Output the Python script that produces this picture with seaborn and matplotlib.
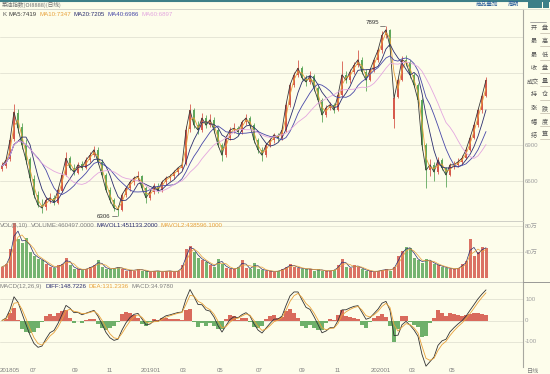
import numpy as np
import pandas as pd
import matplotlib.pyplot as plt
import seaborn as sns
from matplotlib.patches import Rectangle

# ---- data (one bar ~ 4-5 trading days) ----
opens = [6700, 6725, 6780, 6950, 7170, 7050, 6900, 6780, 6620, 6480,
         6400, 6380, 6440, 6460, 6420, 6520, 6650, 6790, 6710, 6670,
         6740, 6710, 6775, 6815, 6860, 6760, 6650, 6525, 6440, 6375,
         6360, 6485, 6540, 6590, 6625, 6640, 6540, 6460, 6510, 6560,
         6525, 6590, 6625, 6640, 6675, 6710, 6740, 7030, 7190, 7065,
         7025, 7125, 7065, 7110, 7025, 6900, 6815, 6960, 7025, 7040,
         7010, 7090, 7125, 7065, 6940, 6860, 6815, 6900, 6940, 6985,
         6960, 7025, 7235, 7400, 7485, 7540, 7460, 7425, 7475, 7375,
         7275, 7150, 7210, 7235, 7190, 7315, 7485, 7440, 7510, 7565,
         7610, 7510, 7440, 7525, 7610, 7690, 7815, 7860, 7120, 7300,
         7440, 7610, 7590, 7485, 7400, 7275, 6900, 6690, 6735, 6675,
         6775, 6710, 6650, 6735, 6735, 6760, 6790, 6860, 6960, 7065,
         7190, 7310]
highs = [6760, 6800, 6980, 7240, 7200, 7080, 6950, 6800, 6650, 6520,
         6450, 6470, 6500, 6480, 6540, 6670, 6840, 6810, 6740, 6760,
         6770, 6800, 6840, 6890, 6880, 6780, 6670, 6550, 6460, 6400,
         6500, 6560, 6610, 6640, 6680, 6650, 6560, 6530, 6580, 6580,
         6610, 6640, 6660, 6690, 6720, 6760, 7060, 7240, 7210, 7100,
         7170, 7150, 7160, 7130, 7040, 6920, 6980, 7050, 7080, 7060,
         7110, 7160, 7140, 7080, 6960, 6880, 6920, 6960, 7000, 7000,
         7050, 7260, 7420, 7510, 7610, 7560, 7480, 7520, 7490, 7390,
         7290, 7230, 7260, 7250, 7340, 7600, 7520, 7530, 7590, 7690,
         7630, 7530, 7540, 7620, 7710, 7850, 7895, 7870, 7320, 7460,
         7640, 7650, 7610, 7500, 7420, 7290, 6920, 6780, 6760, 6800,
         6790, 6720, 6750, 6770, 6790, 6820, 6880, 6980, 7090, 7210,
         7330, 7470]
lows = [6680, 6710, 6770, 6930, 7000, 6870, 6740, 6600, 6460, 6380,
        6330, 6360, 6420, 6400, 6410, 6510, 6640, 6690, 6650, 6660,
        6690, 6700, 6760, 6800, 6740, 6640, 6510, 6420, 6350, 6306,
        6350, 6470, 6520, 6570, 6600, 6520, 6420, 6440, 6490, 6500,
        6510, 6570, 6600, 6620, 6650, 6690, 6730, 7010, 7040, 6990,
        7010, 7040, 7050, 7000, 6880, 6770, 6800, 6940, 7000, 6980,
        6990, 7070, 7040, 6920, 6830, 6770, 6800, 6880, 6920, 6930,
        6940, 7010, 7220, 7380, 7470, 7440, 7390, 7410, 7350, 7260,
        7090, 7130, 7190, 7170, 7180, 7300, 7420, 7420, 7490, 7550,
        7490, 7350, 7430, 7510, 7590, 7670, 7790, 7700, 7040, 7290,
        7430, 7560, 7460, 7380, 7250, 6860, 6540, 6640, 6600, 6660,
        6690, 6550, 6640, 6700, 6720, 6740, 6780, 6850, 6950, 7050,
        7170, 7300]
closes = [6725, 6775, 6940, 7175, 7040, 6900, 6775, 6625, 6485, 6400,
          6375, 6440, 6460, 6425, 6525, 6650, 6790, 6710, 6675, 6735,
          6710, 6775, 6815, 6860, 6760, 6650, 6525, 6440, 6375, 6360,
          6485, 6540, 6590, 6625, 6640, 6540, 6460, 6510, 6560, 6525,
          6590, 6625, 6640, 6675, 6710, 6735, 7025, 7190, 7065, 7025,
          7125, 7065, 7110, 7025, 6900, 6815, 6960, 7025, 7040, 7010,
          7090, 7125, 7065, 6940, 6860, 6815, 6900, 6940, 6985, 6960,
          7025, 7235, 7400, 7485, 7540, 7460, 7425, 7475, 7375, 7275,
          7150, 7210, 7235, 7190, 7315, 7485, 7440, 7510, 7565, 7610,
          7510, 7440, 7525, 7610, 7690, 7815, 7860, 7720, 7290, 7440,
          7610, 7590, 7485, 7400, 7275, 6900, 6690, 6735, 6675, 6775,
          6710, 6650, 6735, 6735, 6760, 6790, 6860, 6960, 7065, 7190,
          7310, 7440]
# volume in 万手
volumes = [18, 22, 45, 85, 60, 55, 62, 40, 35, 30,
           28, 22, 18, 16, 20, 22, 32, 20, 15, 14,
           13, 15, 18, 20, 28, 18, 15, 14, 16, 18,
           14, 12, 13, 12, 15, 12, 11, 10, 12, 11,
           10, 12, 11, 10, 12, 20, 45, 50, 40, 32,
           28, 25, 20, 18, 30, 22, 16, 15, 14, 18,
           28, 16, 14, 24, 15, 13, 12, 11, 10, 12,
           14, 18, 22, 18, 16, 15, 14, 15, 12, 14,
           12, 11, 12, 13, 20, 30, 18, 16, 20, 18,
           14, 12, 11, 10, 12, 13, 14, 12, 18, 35,
           42, 48, 46, 32, 28, 24, 30, 26, 22, 20,
           18, 16, 15, 14, 16, 22, 26, 60, 35, 40,
           48, 46]

ma_names = ["MA5:7419", "MA10:7347", "MA20:7205", "MA40:6986", "MA60:6897"]
ma_windows = [1, 2, 5, 9, 14]
price_grid = [7800, 7500, 7200, 6900, 6600]
price_labels = ["6900", "6600"]
vol_grid = [80, 40]
vol_labels = ["80万", "40万"]
macd_grid = [100, 0, -100]
month_labels = ["201805", "07", "09", "11", "201901", "03", "05", "07",
                "09", "11", "202001", "03", "05"]
month_pos = [-0.5, 7, 17.5, 26.25, 34.75, 44.5, 53.75, 63.5, 74.25, 83.25,
             92.25, 101.75, 111.75]
buttons = [("开", "盘"), ("最", "高"), ("最", "低"), ("收", "盘"),
           ("成交", "量"), ("持", "仓"), ("涨", "跌"), ("幅", "度"), ("结", "算")]

# ---- style ----
sns.set_style("white")
plt.rcParams['font.family'] = ['Liberation Sans Narrow', 'Liberation Sans',
                               'Noto Sans CJK SC', 'DejaVu Sans']
CJK = ['Noto Sans CJK SC', 'DejaVu Sans']
BG = "#FDFDEB"
UP = "#D65A4C"
DOWN = "#5FA85C"
GRID = "#E2E2D2"
TXT = "#808080"
NAVY = "#2A2D6E"
ORANGE = "#E8A13A"
ma_colors = ["#3A3A3A", ORANGE, NAVY, "#4848A8", "#E3A6DF"]
FS = 4.4

W, H = 550, 374
fig = plt.figure(figsize=(5.5, 3.74), dpi=100, facecolor=BG)
renderer = fig.canvas.get_renderer()


def rect(x0, y0, x1, y1):
    return [x0 / W, 1 - y1 / H, (x1 - x0) / W, (y1 - y0) / H]


def text_row(ax, x, y, items, gap=2.5):
    # lay out coloured legend pieces one after another
    for s, c in items:
        t = ax.text(x, y, s, transform=ax.transAxes, fontsize=FS, color=c,
                    va="center", ha="left")
        bb = t.get_window_extent(renderer)
        x = ax.transAxes.inverted().transform((bb.x1 + gap, bb.y0))[0]


ax_k = fig.add_axes(rect(0, 9, 523, 221))
ax_v = fig.add_axes(rect(0, 221, 523, 282))
ax_m = fig.add_axes(rect(0, 282, 523, 367))

df = pd.DataFrame({"open": opens, "high": highs, "low": lows,
                   "close": closes, "vol": volumes})
df["i"] = np.arange(len(df))
up = df["close"] >= df["open"]
colors = np.where(up, UP, DOWN)

for ax in (ax_k, ax_v, ax_m):
    ax.set_facecolor(BG)
    ax.set_xlim(-0.5, 130.25)
    for s in ax.spines.values():
        s.set_visible(False)
    ax.spines["right"].set_visible(True)
    ax.spines["right"].set_color("#A8A8A0")
    ax.spines["right"].set_linewidth(0.8)
    ax.spines["top"].set_visible(True)
    ax.spines["top"].set_color("#C8C8C0")
    ax.spines["top"].set_linewidth(0.6)
    ax.tick_params(length=0, labelsize=FS, colors=TXT, pad=1)
    ax.set_yticks([])
    ax.set_xticks([])

# ---- main K panel ----
ax_k.set_ylim(6267, 8033)
for g in price_grid:
    ax_k.axhline(g, color=GRID, lw=0.6, zorder=0)
ax_k.vlines(df["i"], df["low"], df["high"], colors=colors, lw=0.6, zorder=2)
body = (df["close"] - df["open"]).abs().clip(lower=6)
ax_k.bar(df["i"], body, bottom=df[["open", "close"]].min(axis=1),
         width=0.6, color=colors, lw=0, zorder=2)
for w, c in zip(ma_windows, ma_colors):
    ma = df["close"].rolling(w, min_periods=1).mean()
    sns.lineplot(x=df["i"], y=ma, ax=ax_k, color=c, lw=0.6, zorder=3)
ax_k.set_xlabel("")
ax_k.set_ylabel("")
ytr = ax_k.get_yaxis_transform()
for lab in price_labels:
    ax_k.text(1.004, float(lab), lab, transform=ytr, fontsize=FS,
              color="#A0A0A0", va="center", ha="left", clip_on=False)

# peak / trough marks
imax = int(df["high"].idxmax())
imin = int(df["low"].idxmin())
ax_k.plot([imax - 1.6, imax - 0.3], [df["high"][imax]] * 2, color="#555", lw=0.5)
ax_k.text(imax - 1.8, df["high"][imax] + 25, f"{df['high'][imax]}", fontsize=FS,
          color="#333", ha="right", va="center")
ax_k.plot([imin - 1.6, imin - 0.3], [df["low"][imin]] * 2, color="#555", lw=0.5)
ax_k.text(imin - 1.8, df["low"][imin], f"{df['low'][imin]}", fontsize=FS,
          color="#333", ha="right", va="center")

text_row(ax_k, 0.004, 0.975, [("K", "#555")] + list(zip(ma_names, ma_colors)))

# ---- volume panel ----
ax_v.set_ylim(-5.5, 88)
for g in vol_grid:
    ax_v.axhline(g, color=GRID, lw=0.6, zorder=0)
ax_v.bar(df["i"], df["vol"], width=0.75, color=colors, lw=0, alpha=0.85,
         zorder=2)
sns.lineplot(x=df["i"], y=df["vol"].rolling(2, min_periods=1).mean(),
             ax=ax_v, color=NAVY, lw=0.5, zorder=3)
sns.lineplot(x=df["i"], y=df["vol"].rolling(3, min_periods=1).mean(),
             ax=ax_v, color=ORANGE, lw=0.5, zorder=3)
ax_v.set_xlabel("")
ax_v.set_ylabel("")
vtr = ax_v.get_yaxis_transform()
for g, lab in zip(vol_grid, vol_labels):
    ax_v.text(1.004, g, lab, transform=vtr, fontsize=FS, color="#A0A0A0",
              va="center", ha="left", clip_on=False)
text_row(ax_v, 0.0, 0.92, [("VOL(5,10)", TXT), ("VOLUME:460497.0000", TXT),
                           ("MAVOL1:451133.2000", NAVY),
                           ("MAVOL2:438596.1000", ORANGE)])

# ---- MACD panel ----
close = df["close"]
diff = close.ewm(alpha=0.51, adjust=False).mean() - \
    close.ewm(alpha=0.28, adjust=False).mean()
dea = diff.ewm(alpha=0.61, adjust=False).mean()
hist = 2 * (diff - dea)
ax_m.set_ylim(-221, 183)
for g in macd_grid:
    ax_m.axhline(g, color=GRID, lw=0.6, zorder=0)
ax_m.bar(df["i"], hist, width=1.0, color=np.where(hist >= 0, UP, DOWN),
         lw=0, alpha=0.9, zorder=2)
sns.lineplot(x=df["i"], y=diff, ax=ax_m, color="#333333", lw=0.6, zorder=3)
sns.lineplot(x=df["i"], y=dea, ax=ax_m, color=ORANGE, lw=0.6, zorder=3)
ax_m.set_xlabel("")
ax_m.set_ylabel("")
mtr = ax_m.get_yaxis_transform()
for g in macd_grid:
    ax_m.text(1.004, g, f"{g}", transform=mtr, fontsize=FS, color="#A0A0A0",
              va="center", ha="left", clip_on=False)
text_row(ax_m, 0.0, 0.95, [("MACD(12,26,9)", TXT), ("DIFF:148.7226", NAVY),
                           ("DEA:131.2336", ORANGE), ("MACD:34.9780", TXT)])
ax_m.set_xticks(month_pos)
ax_m.set_xticklabels(month_labels, ha="left")
ax_m.tick_params(axis="x", labelsize=FS, colors=TXT, pad=1.0)

# ---- frame / header / side buttons ----
fig.add_artist(plt.Line2D([0, 1], [1 - 0.8 / H] * 2, color="#3D7F88", lw=1.5))
fig.add_artist(plt.Line2D([0, 1], [1 - 9 / H] * 2, color="#D8D8CC", lw=0.6))
fig.text(2 / W, 1 - 4.5 / H, "菜油指数(OI8888)(日线)", fontsize=FS - 0.3,
         color="#707070", va="center", family=CJK)
fig.text(476 / W, 1 - 4.5 / H, "商品叠加", fontsize=FS - 0.3, color="#2A5E9A",
         va="center", family=CJK)
fig.text(508 / W, 1 - 4.5 / H, "周期", fontsize=FS - 0.3, color="#2A5E9A",
         va="center", family=CJK)
for k in range(3):
    fig.add_artist(Rectangle(((528 + k * 7.3) / W, 1 - 8 / H), 6.5 / W,
                             6 / H, transform=fig.transFigure,
                             facecolor="#3D7F88", edgecolor="none"))
fig.add_artist(plt.Line2D([530 / W, 546 / W], [1 - 22 / H] * 2,
                          color="#888", lw=0.5))
for r, (a, b) in enumerate(buttons):
    yy = 28 + r * 13.3
    xa = 527 if len(a) > 1 else 531
    fig.text(xa / W, 1 - yy / H, a, fontsize=FS, color="#555",
             va="center", family=CJK)
    fig.text(542 / W, 1 - yy / H, b, fontsize=FS, color="#555", va="center",
             family=CJK)
    fig.add_artist(plt.Line2D([540 / W, 550 / W], [1 - (yy + 5) / H] * 2,
                              color="#C0B9A8", lw=0.5))
fig.add_artist(plt.Line2D([523 / W, 550 / W], [1 - 282 / H] * 2,
                          color="#888", lw=0.6))
fig.text(527 / W, 1 - 371 / H, "日线", fontsize=FS, color=TXT, va="center",
         family=CJK)

fig.savefig("out.png", dpi=100, facecolor=BG)
